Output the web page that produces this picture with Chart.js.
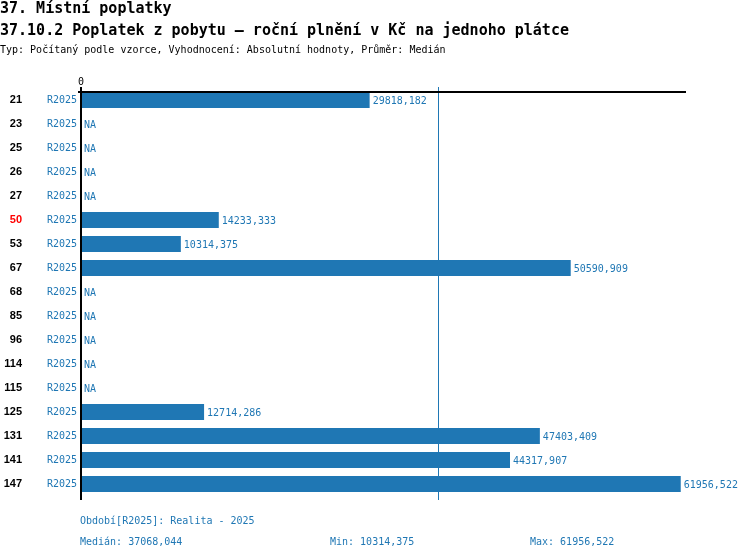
<!DOCTYPE html>
<html lang="cs">
<head>
  <meta charset="UTF-8">
  <title>Poplatek z pobytu</title>
  <style>
    body { margin: 0; background: #fff; }
    .wrap { position: relative; width: 750px; height: 560px; font-family: "DejaVu Sans Mono", monospace; }
    canvas { position: absolute; left: 0; top: 0; }
    .txt { position: absolute; white-space: nowrap; line-height: 1; }
    .h1 { left: 0; top: 1px; font-size: 15px; font-weight: bold; color: #000; }
    .h2 { left: 0; top: 23px; font-size: 15px; font-weight: bold; color: #000; }
    .sub { left: 0; top: 45px; font-size: 10px; color: #000; }
    .foot { font-size: 10px; color: #1f77b4; }
  </style>
</head>
<body>
  <div class="wrap">
    <canvas id="graf" width="750" height="560"></canvas>
    <div class="txt h1">37. Místní poplatky</div>
    <div class="txt h2">37.10.2 Poplatek z pobytu – roční plnění v Kč na jednoho plátce</div>
    <div class="txt sub">Typ: Počítaný podle vzorce, Vyhodnocení: Absolutní hodnoty, Průměr: Medián</div>
    <div class="txt foot" id="obdobi" style="left:80px; top:516px;"></div>
    <div class="txt foot" id="median" style="left:80px; top:537px;"></div>
    <div class="txt foot" id="min" style="left:330px; top:537px;"></div>
    <div class="txt foot" id="max" style="left:530px; top:537px;"></div>
  </div>

  <script src="https://cdn.jsdelivr.net/npm/chart.js"></script>
  <script>
    // data
    const obce = ['21', '23', '25', '26', '27', '50', '53', '67', '68', '85', '96', '114', '115', '125', '131', '141', '147'];
    const hodnoty = [29818.182, null, null, null, null, 14233.333, 10314.375, 50590.909, null, null, null, null, null, 12714.286, 47403.409, 44317.907, 61956.522];
    const obdobi = obce.map(() => 'R2025');
    const zvyraznena = '50';
    const median = 37068.044;
    const minimum = 10314.375;
    const maximum = 61956.522;
    const osaMax = 62500;

    const modra = '#1f77b4';
    const font = '"DejaVu Sans Mono", monospace';

    const fmt = v => v.toFixed(3).replace('.', ',');

    document.getElementById('obdobi').textContent = 'Období[R2025]: Realita - 2025';
    document.getElementById('median').textContent = 'Medián: ' + fmt(median);
    document.getElementById('min').textContent = 'Min: ' + fmt(minimum);
    document.getElementById('max').textContent = 'Max: ' + fmt(maximum);

    // vlastní kreslení: čáry os, medián, popisky hodnot
    const doplnky = {
      id: 'doplnky',
      afterDatasetsDraw(chart) {
        const ctx = chart.ctx;
        const a = chart.chartArea;
        const x = chart.scales.x;
        ctx.save();
        // medián
        const mx = Math.floor(x.getPixelForValue(median)) - 0.5;
        ctx.strokeStyle = modra;
        ctx.lineWidth = 1;
        ctx.beginPath();
        ctx.moveTo(mx, a.top - 1);
        ctx.lineTo(mx, a.bottom + 4);
        ctx.stroke();
        // horní osa
        ctx.strokeStyle = '#000';
        ctx.lineWidth = 2;
        ctx.beginPath();
        ctx.moveTo(a.left - 3, a.top + 4);
        ctx.lineTo(a.right, a.top + 4);
        ctx.stroke();
        // levá osa
        ctx.lineWidth = 2;
        ctx.beginPath();
        ctx.moveTo(a.left, a.top - 1);
        ctx.lineTo(a.left, a.bottom + 4);
        ctx.stroke();
        // popisky
        ctx.fillStyle = modra;
        ctx.font = '10px ' + font;
        ctx.textBaseline = 'middle';
        ctx.textAlign = 'left';
        chart.getDatasetMeta(0).data.forEach((bar, i) => {
          const v = hodnoty[i];
          const y = chart.scales.y.getPixelForValue(i);
          if (v === null) {
            ctx.fillText('NA', a.left + 3, y + 1);
          } else {
            ctx.fillText(fmt(v), bar.x + 3, y + 1);
          }
        });
        ctx.restore();
      }
    };

    new Chart(document.getElementById('graf'), {
      type: 'bar',
      data: {
        labels: obce,
        datasets: [{
          data: hodnoty,
          backgroundColor: modra,
          borderWidth: 0,
          barPercentage: 0.667,
          categoryPercentage: 1
        }]
      },
      options: {
        indexAxis: 'y',
        responsive: false,
        animation: false,
        layout: { padding: { left: 0, right: 64, top: 0, bottom: 64 } },
        plugins: { legend: { display: false }, tooltip: { enabled: false } },
        scales: {
          x: {
            position: 'top',
            min: 0,
            max: osaMax,
            grid: { display: false, drawTicks: false },
            border: { display: false },
            afterBuildTicks: s => { s.ticks = [{ value: 0 }]; },
            afterFit: s => { s.height = 88; },
            ticks: { color: '#000', font: { family: font, size: 10 }, padding: 0, maxRotation: 0 }
          },
          y: {
            position: 'left',
            weight: 1,
            grid: { display: false, drawTicks: false },
            border: { display: false },
            afterFit: s => { s.width = 25; },
            ticks: {
              color: c => obce[c.index] === zvyraznena ? '#ff0000' : '#000',
              font: { family: '"Liberation Sans", sans-serif', size: 11, weight: 'bold' },
              padding: 3
            }
          },
          y2: {
            type: 'category',
            labels: obdobi,
            position: 'left',
            weight: 0,
            grid: { display: false, drawTicks: false },
            border: { display: false },
            afterFit: s => { s.width = 56; },
            ticks: { color: modra, font: { family: font, size: 10 }, padding: 4 }
          }
        }
      },
      plugins: [doplnky]
    });
  </script>
</body>
</html>
